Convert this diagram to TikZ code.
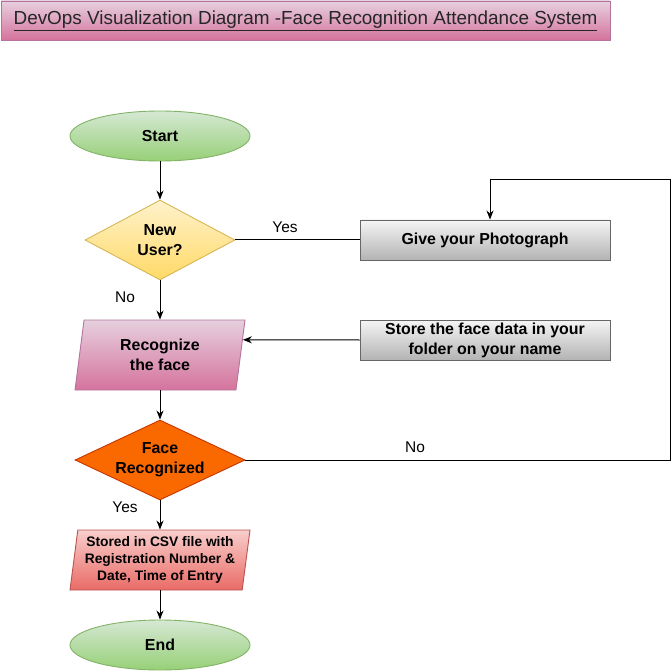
\documentclass[tikz,border=0pt]{standalone}
\usepackage{fontspec}
\setmainfont{Liberation Sans}
\usetikzlibrary{shapes.geometric,arrows.meta,calc}
\definecolor{pinkT}{HTML}{E6D0DE}
\definecolor{pinkB}{HTML}{D5739D}
\definecolor{pinkS}{HTML}{B5739D}
\definecolor{greenT}{HTML}{D5E8D4}
\definecolor{greenB}{HTML}{97D077}
\definecolor{greenS}{HTML}{82B366}
\definecolor{yelT}{HTML}{FFF2CC}
\definecolor{yelB}{HTML}{FFD966}
\definecolor{yelS}{HTML}{D6B656}
\definecolor{grayT}{HTML}{F5F5F5}
\definecolor{grayB}{HTML}{B3B3B3}
\definecolor{grayS}{HTML}{666666}
\definecolor{oraF}{HTML}{FA6800}
\definecolor{oraS}{HTML}{C73500}
\definecolor{redT}{HTML}{F8CECC}
\definecolor{redB}{HTML}{EA6B66}
\definecolor{redS}{HTML}{B85450}
\tikzset{
  base/.style={draw, line width=0.9pt, align=center, inner sep=0pt, font=\fontsize{15.9}{20}\selectfont\bfseries},
  terminal/.style={base, ellipse, minimum width=180pt, minimum height=50pt, top color=greenT, bottom color=greenB, draw=greenS},
  decision/.style={base, diamond, aspect=1.875},
  greybox/.style={base, rectangle, minimum width=250pt, minimum height=40pt, top color=grayT, bottom color=grayB, draw=grayS},
  slanted/.style={base, trapezium, trapezium stretches body=true},
  arr/.style={line width=1pt, -{Stealth[length=9pt,width=7pt]}},
  conn/.style={line width=1pt},
  lbl/.style={font=\fontsize{15.5}{18}\selectfont, inner sep=0pt}
}
\begin{document}
\begin{tikzpicture}[x=1pt,y=-1pt]
\useasboundingbox (0,0) rectangle (672,671);
\node[draw=pinkS, line width=0.9pt, top color=pinkT, bottom color=pinkB, minimum width=609pt, minimum height=39pt, inner sep=0pt, font=\fontsize{18.9}{22}\selectfont, text=black!85] (title) at (305.5,20.5) {\underline{DevOps Visualization Diagram -Face Recognition Attendance System}};

\node[terminal] (start) at (160,136) {Start};
\node[decision, minimum width=150pt, minimum height=80pt, top color=yelT, bottom color=yelB, draw=yelS] (newuser) at (160,240) {New\\User?};
\node[greybox] (give) at (485,240) {Give your Photograph};
\node[slanted, trapezium left angle=74.05, trapezium right angle=105.95, minimum width=170pt, minimum height=70pt, top color=pinkT, bottom color=pinkB, draw=pinkS] (recog) at (160,355) {Recognize\\the face};
\node[greybox] (store) at (485,340) {Store the face data in your\\folder on your name};
\node[decision, minimum width=170pt, minimum height=80pt, fill=oraF, draw=oraS, aspect=2.125] (face) at (160,460) {Face\\Recognized};
\node[slanted, trapezium left angle=80.54, trapezium right angle=99.46, minimum width=180pt, minimum height=60pt, top color=redT, bottom color=redB, draw=redS, font=\fontsize{13.8}{17}\selectfont\bfseries] (stored) at (160,560) {Stored in CSV file with\\Registration Number \&\\Date, Time of Entry};
\node[terminal] (end) at (160,645) {End};

\coordinate (c1) at (670,460);
\coordinate (c2) at (670,180);
\coordinate (c3) at (490,180);
\coordinate (rin) at ($(recog.top right corner)!0.2857!(recog.bottom right corner)$);

\draw[arr] (start) -- (newuser);
\draw[conn] (newuser.east) -- (give.west);
\draw[arr] (newuser.south) -- (newuser.south |- recog.north);
\draw[arr] (store.west) -- (rin);
\draw[arr] (face.north |- recog.south) -- (face.north);
\draw[conn] (face.east) -- (c1) -- (c2) -- (c3);
\draw[arr] (c3) -- (c3 |- give.north);
\draw[arr] (face.south) -- (face.south |- stored.north);
\draw[arr] (end.north |- stored.south) -- (end.north);

\node[lbl] (yes1) at (285,227) {Yes};
\node[lbl] (no1) at (125,297) {No};
\node[lbl] (no2) at (415,447) {No};
\node[lbl] (yes2) at (125,507) {Yes};
\end{tikzpicture}
\end{document}
